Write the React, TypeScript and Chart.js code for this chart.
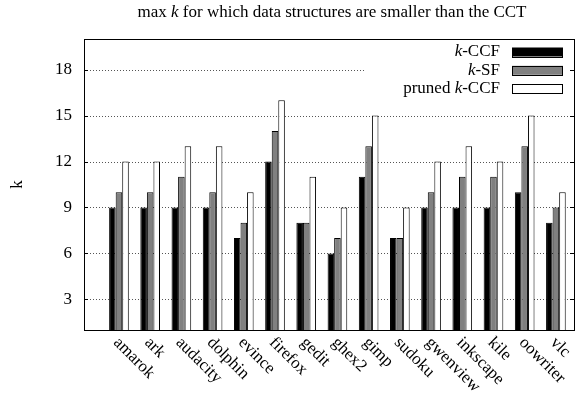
import React, { useEffect, useRef } from 'react';
import { Chart, registerables } from 'chart.js';

Chart.register(...registerables);

const categories = ['amarok', 'ark', 'audacity', 'dolphin', 'evince', 'firefox', 'gedit', 'ghex2', 'gimp', 'sudoku', 'gwenview', 'inkscape', 'kile', 'oowriter', 'vlc'];
const kCCF = [9, 9, 9, 9, 7, 12, 8, 6, 11, 7, 9, 9, 9, 10, 8];
const kSF = [10, 10, 11, 10, 8, 14, 8, 7, 13, 7, 10, 11, 11, 13, 9];
const prunedKCCF = [12, 12, 13, 13, 10, 16, 11, 9, 15, 9, 12, 13, 12, 15, 10];
const seriesLabels = ['k-CCF', 'k-SF', 'pruned k-CCF'];
const yTicks = [3, 6, 9, 12, 15, 18];
const titleText = 'max k for which data structures are smaller than the CCT';
const yTitle = 'k';

const FF = '"Liberation Serif", "Times New Roman", serif';
const FS = 17;

function drawRich(ctx: CanvasRenderingContext2D, text: string, x: number, y: number, size: number, align: 'left' | 'right' | 'center') {
  const parts = text.split(/(\bk\b)/).filter((p) => p.length > 0);
  const fonts = parts.map((p) => (p === 'k' ? `italic ${size}px ${FF}` : `${size}px ${FF}`));
  const widths = parts.map((p, i) => {
    ctx.font = fonts[i];
    return ctx.measureText(p).width;
  });
  const total = widths.reduce((a, b) => a + b, 0);
  let cx = align === 'right' ? x - total : align === 'center' ? x - total / 2 : x;
  ctx.textAlign = 'left';
  parts.forEach((p, i) => {
    ctx.font = fonts[i];
    ctx.fillText(p, cx, y);
    cx += widths[i];
  });
}

const decorPlugin = {
  id: 'decor',
  beforeDatasetsDraw(chart: any) {
    const { ctx, chartArea } = chart;
    const y = chart.scales.y;
    ctx.save();
    ctx.strokeStyle = '#555';
    ctx.lineWidth = 1;
    ctx.setLineDash([1, 2]);
    yTicks.forEach((t) => {
      const py = Math.round(y.getPixelForValue(t)) + 0.5;
      ctx.beginPath();
      ctx.moveTo(chartArea.left, py);
      ctx.lineTo(chartArea.right, py);
      ctx.stroke();
    });
    ctx.setLineDash([]);
    ctx.strokeStyle = '#000';
    yTicks.forEach((t) => {
      const py = Math.round(y.getPixelForValue(t)) + 0.5;
      ctx.beginPath();
      ctx.moveTo(chartArea.left, py);
      ctx.lineTo(chartArea.left + 4, py);
      ctx.moveTo(chartArea.right, py);
      ctx.lineTo(chartArea.right - 4, py);
      ctx.stroke();
    });
    ctx.restore();
  },
  afterDatasetsDraw(chart: any) {
    const { ctx, chartArea } = chart;
    const x = chart.scales.x;
    ctx.save();
    // frame
    ctx.strokeStyle = '#000';
    ctx.lineWidth = 1;
    ctx.strokeRect(Math.round(chartArea.left) + 0.5, Math.round(chartArea.top) + 0.5, Math.round(chartArea.right - chartArea.left), Math.round(chartArea.bottom - chartArea.top));

    // legend
    ctx.fillStyle = '#fff';
    ctx.fillRect(364, 42, 204, 56);
    const ds = chart.data.datasets;
    ds.forEach((d: any, i: number) => {
      const cy = 52 + i * 18.3;
      ctx.fillStyle = '#000';
      ctx.textBaseline = 'middle';
      drawRich(ctx, d.label, 500, cy, FS, 'right');
      ctx.fillStyle = d.backgroundColor;
      ctx.fillRect(512, cy - 4.5, 51, 9);
      ctx.strokeStyle = '#000';
      ctx.strokeRect(512.5, Math.round(cy - 4.5) + 0.5, 50, 9);
    });

    // title
    ctx.fillStyle = '#000';
    ctx.textBaseline = 'middle';
    drawRich(ctx, titleText, 332, 13, FS, 'center');

    // y title
    ctx.save();
    ctx.translate(18, (chartArea.top + chartArea.bottom) / 2);
    ctx.rotate(-Math.PI / 2);
    ctx.font = `${FS}px ${FF}`;
    ctx.textAlign = 'center';
    ctx.textBaseline = 'middle';
    ctx.fillText(yTitle, 0, 0);
    ctx.restore();

    // x labels
    ctx.font = `${FS}px ${FF}`;
    ctx.textAlign = 'left';
    ctx.textBaseline = 'middle';
    categories.forEach((c, i) => {
      const px = x.getPixelForValue(i);
      ctx.save();
      ctx.translate(px - 3, chartArea.bottom + 10);
      ctx.rotate(Math.PI / 4);
      ctx.fillText(c, 0, 0);
      ctx.restore();
    });
    ctx.restore();
  },
};

export default function App() {
  const ref = useRef<HTMLCanvasElement>(null);
  useEffect(() => {
    document.body.style.margin = '0';
    const toPts = (arr: number[]) => arr.map((v, i) => ({ x: i, y: v }));
    const chart = new Chart(ref.current!, {
      type: 'bar',
      data: {
        datasets: [
          { label: seriesLabels[0], data: toPts(kCCF), backgroundColor: '#000000', borderColor: '#000', borderWidth: 1 },
          { label: seriesLabels[1], data: toPts(kSF), backgroundColor: '#808080', borderColor: '#000', borderWidth: 1 },
          { label: seriesLabels[2], data: toPts(prunedKCCF), backgroundColor: '#ffffff', borderColor: '#000', borderWidth: 1 },
        ],
      },
      options: {
        responsive: false,
        animation: false,
        events: [],
        layout: { padding: { top: 39, right: 7, left: 0, bottom: 0 } },
        datasets: { bar: { categoryPercentage: 0.63, barPercentage: 1 } },
        plugins: { legend: { display: false }, tooltip: { enabled: false }, title: { display: false } },
        scales: {
          x: {
            type: 'linear',
            min: -1.12,
            max: 14.58,
            offset: false,
            grid: { display: false },
            border: { display: false },
            ticks: { display: false },
            afterFit: (s: any) => { s.height = 63; },
          },
          y: {
            min: 1,
            max: 20,
            grid: { display: false, drawTicks: false },
            border: { display: false },
            ticks: {
              padding: 12,
              color: '#000',
              font: { family: FF, size: FS },
            },
            afterBuildTicks: (s: any) => { s.ticks = yTicks.map((v) => ({ value: v })); },
            afterFit: (s: any) => { s.width = 84; },
          },
        },
      } as any,
      plugins: [decorPlugin],
    });
    return () => chart.destroy();
  }, []);
  return (
    <div style={{ position: 'absolute', left: 0, top: 0, width: 581, height: 393, background: '#fff' }}>
      <canvas ref={ref} width={581} height={393} style={{ display: 'block' }} />
    </div>
  );
}
